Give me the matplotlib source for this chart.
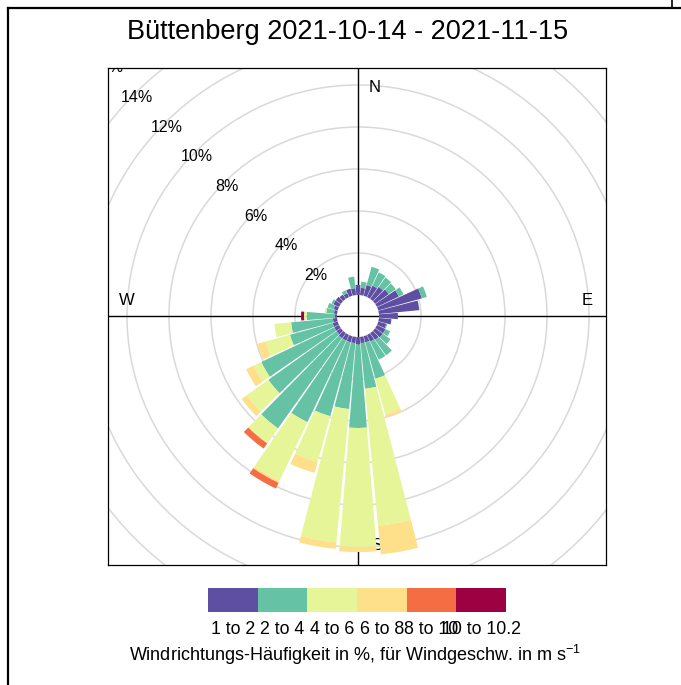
import matplotlib
matplotlib.use("Agg")
import matplotlib.pyplot as plt
from matplotlib.patches import Wedge, Circle, Rectangle
from matplotlib.lines import Line2D
import numpy as np

plt.rcParams['font.family'] = ['Liberation Sans', 'DejaVu Sans']
plt.rcParams['mathtext.fontset'] = 'custom'
plt.rcParams['mathtext.rm'] = 'Liberation Sans'
plt.rcParams['mathtext.it'] = 'Liberation Sans:italic'

# ---------------- data ----------------
title = "Büttenberg 2021-10-14 - 2021-11-15"
directions = [10, 20, 30, 40, 50, 60, 70, 80, 90, 100, 110, 120, 130, 140, 150, 160, 170, 180,
              190, 200, 210, 220, 230, 240, 250, 260, 270, 280, 290, 300, 310, 320, 330, 340, 350, 360]
speed_labels = ["1 to 2", "2 to 4", "4 to 6", "6 to 8", "8 to 10", "10 to 10.2"]
speed_colors = ["#5E4FA2", "#66C2A5", "#E6F598", "#FEE08B", "#F46D43", "#9E0142"]
# frequency (%) per direction for each speed class
freq_1_2 = [0.35, 0.53, 0.60, 0.70, 0.80, 1.15, 2.15, 1.93, 0.90, 0.60, 0.40, 0.45, 0.45, 0.40, 0.35, 0.30, 0.30, 0.35,
            0.30, 0.30, 0.30, 0.30, 0.25, 0.25, 0.25, 0.20, 0.10, 0.15, 0.20, 0.30, 0.30, 0.25, 0.20, 0.35, 0.33, 0.48]
freq_2_4 = [0.29, 0.90, 0.70, 0.55, 0.40, 0.25, 0.25, 0.00, 0.00, 0.00, 0.05, 0.25, 0.45, 0.90, 0.95, 1.80, 2.18, 3.98,
            3.15, 3.65, 4.30, 5.27, 3.99, 3.85, 2.11, 2.00, 1.34, 0.37, 0.30, 0.10, 0.00, 0.00, 0.16, 0.00, 0.55, 0.00]
freq_4_6 = [0, 0, 0, 0, 0, 0, 0, 0, 0, 0, 0, 0, 0, 0, 0, 1.76, 6.55, 5.67,
            6.38, 2.25, 3.10, 0.88, 1.26, 0.40, 1.20, 0.80, 0.13, 0.08, 0, 0, 0, 0, 0, 0, 0, 0]
freq_6_8 = [0, 0, 0, 0, 0, 0, 0, 0, 0, 0, 0, 0, 0, 0, 0, 0.14, 1.37, 0.24,
            0.31, 0.55, 0.10, 0.00, 0.30, 0.40, 0.41, 0, 0, 0, 0, 0, 0, 0, 0, 0, 0, 0]
freq_8_10 = [0, 0, 0, 0, 0, 0, 0, 0, 0, 0, 0, 0, 0, 0, 0, 0, 0, 0,
             0, 0, 0.30, 0.30, 0, 0, 0, 0, 0, 0, 0, 0, 0, 0, 0, 0, 0, 0]
freq_10_102 = [0, 0, 0, 0, 0, 0, 0, 0, 0, 0, 0, 0, 0, 0, 0, 0, 0, 0,
               0, 0, 0, 0, 0, 0, 0, 0, 0.14, 0, 0, 0, 0, 0, 0, 0, 0, 0]
ring_values = [2, 4, 6, 8, 10, 12, 14, 16]
compass = ["N", "E", "S", "W"]
caption = "Windrichtungs-Häufigkeit in %, für Windgeschw. in m s$^{-1}$"

# ---------------- layout ----------------
W, H = 681, 685
fig = plt.figure(figsize=(W / 100, H / 100), dpi=100)


def fx(px):
    return px / W


def fy(py):
    return 1 - py / H


L, R, T, B = 108, 606, 68, 565
cx, cy = 358, 316
scale = 21.0  # px per percent
offset = 1.0  # inner hole (in % units)

ax = fig.add_axes([fx(L), fy(B), (R - L) / W, (B - T) / H])
ax.set_xlim((L - cx) / scale, (R - cx) / scale)
ax.set_ylim((cy - B) / scale, (cy - T) / scale)
ax.set_xticks([])
ax.set_yticks([])
for s in ax.spines.values():
    s.set_linewidth(0.9)
    s.set_color('black')

# grid rings
for rv in ring_values:
    ax.add_patch(Circle((0, 0), offset + rv, fill=False, ec='#D9D9D9', lw=1.1, zorder=1))
    rr = offset + rv
    ax.text(-rr * np.sin(np.pi / 4) + 0.1, rr * np.cos(np.pi / 4) - 0.2, f"{rv}%", fontsize=11.5,
            ha='center', va='center', zorder=2, clip_on=True)

# cross lines
ax.axhline(0, color='black', lw=1.0, zorder=2)
ax.axvline(0, color='black', lw=1.0, zorder=2)

# compass labels
cpos = {"N": (0.8, 10.86), "E": (10.9, 0.76), "S": (0.9, -10.95), "W": (-11.0, 0.76)}
for c in compass:
    ax.text(*cpos[c], c, fontsize=12, ha='center', va='center', zorder=2)

# wedges
series = [freq_1_2, freq_2_4, freq_4_6, freq_6_8, freq_8_10, freq_10_102]
half = 5.0
gap = 0.45
for i, d in enumerate(directions):
    cum = offset
    for k, ser in enumerate(series):
        v = ser[i]
        if v <= 0:
            continue
        t1 = 90 - (d + half - gap)
        t2 = 90 - (d - half + gap)
        ax.add_patch(Wedge((0, 0), cum + v, t1, t2, width=v, fc=speed_colors[k],
                           ec='none', lw=0, zorder=3))
        cum += v

# legend (colour key)
lx0, lx1, ly0, ly1 = 208, 506, 588, 612
lax = fig.add_axes([fx(lx0), fy(ly1), (lx1 - lx0) / W, (ly1 - ly0) / H])
lax.set_xlim(0, len(speed_labels))
lax.set_ylim(0, 1)
lax.axis('off')
for k, lab in enumerate(speed_labels):
    lax.add_patch(Rectangle((k, 0), 1, 1, fc=speed_colors[k], ec='none'))
    lax.text(k + 0.5, -0.72, lab, fontsize=12.8, ha='center', va='center', clip_on=False)

fig.text(fx(355), fy(655), caption, fontsize=13, ha='center', va='center')
fig.text(fx(348), fy(32), title, fontsize=19.5, ha='center', va='center')

# outer frame
fig.add_artist(Line2D([fx(8), fx(681)], [fy(8), fy(8)], color='black', lw=1.6, transform=fig.transFigure))
fig.add_artist(Line2D([fx(8), fx(8)], [fy(8), fy(685)], color='black', lw=1.6, transform=fig.transFigure))
fig.add_artist(Line2D([fx(672), fx(672)], [fy(0), fy(8)], color='black', lw=1.2, transform=fig.transFigure))

fig.savefig("out.png", dpi=100)
